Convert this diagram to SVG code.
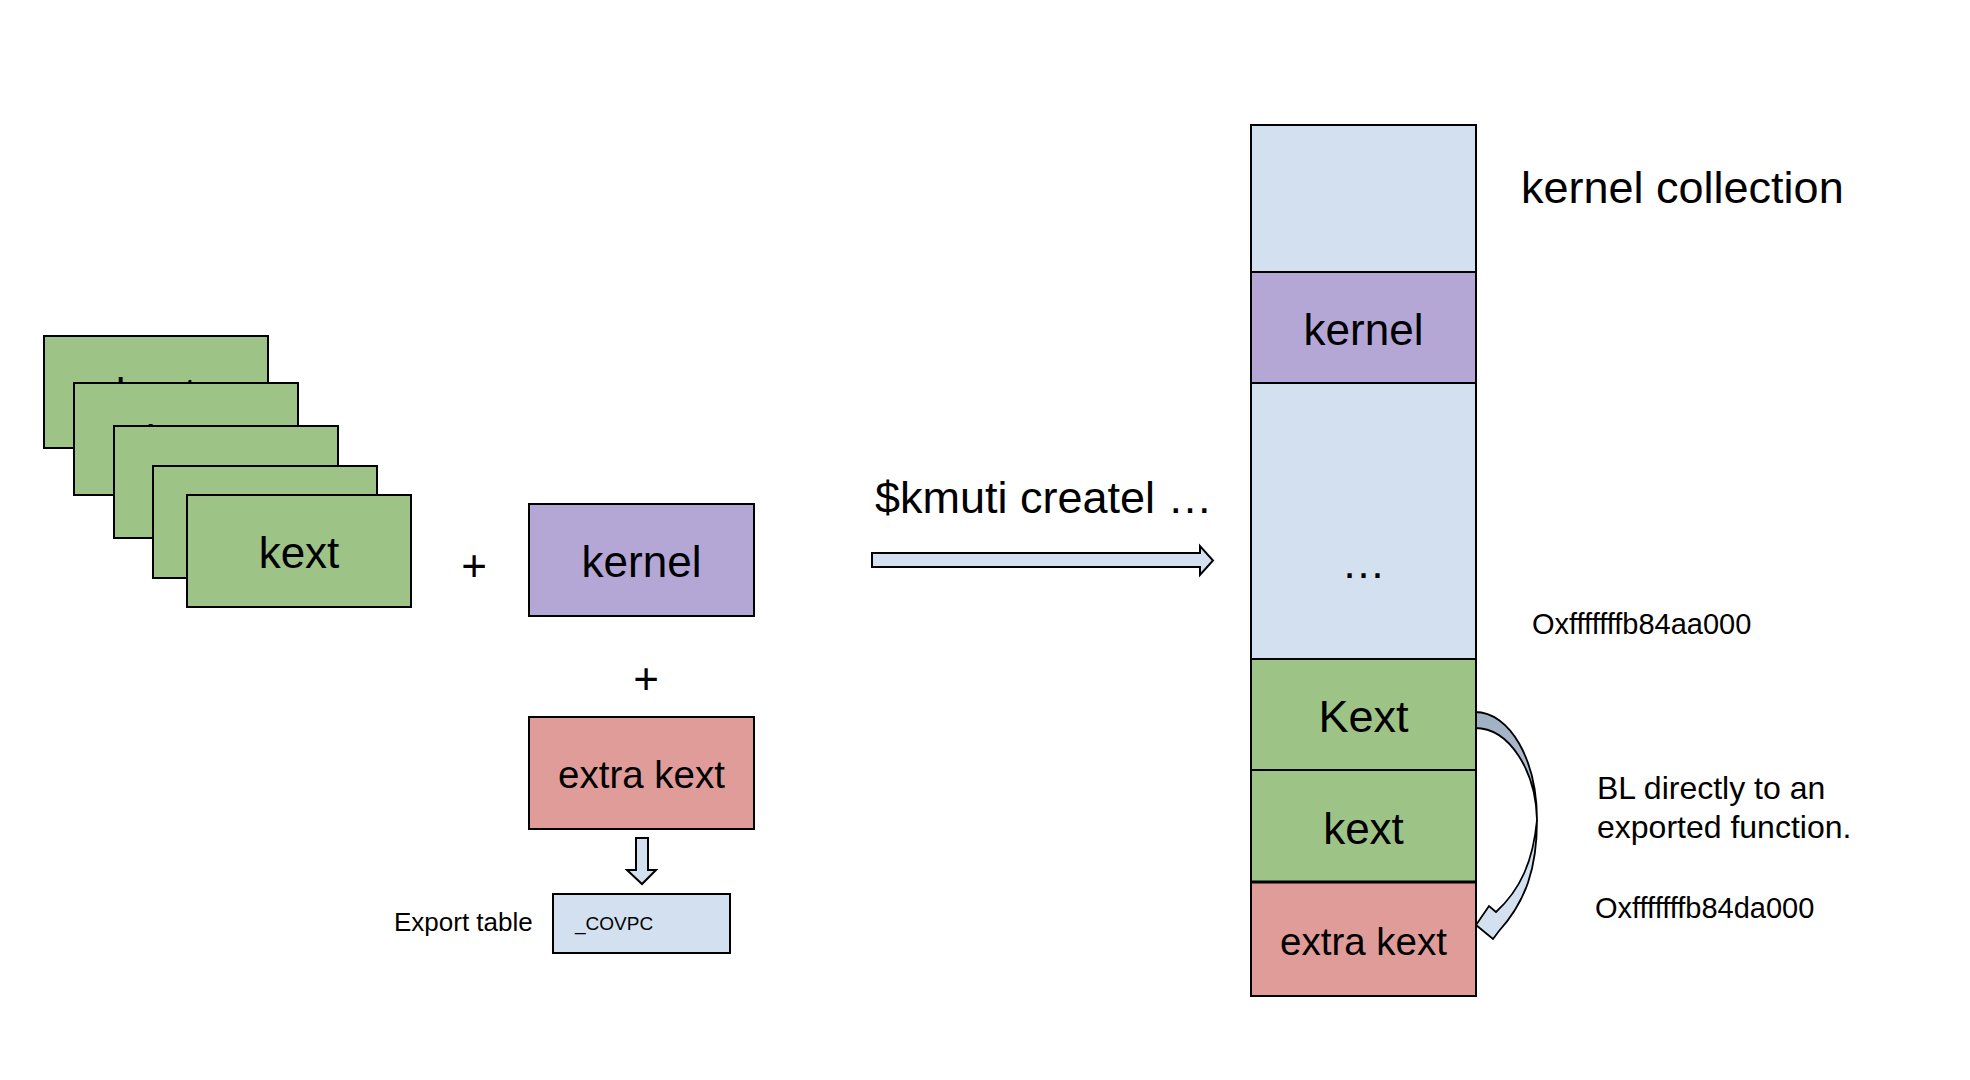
<svg xmlns="http://www.w3.org/2000/svg" width="1970" height="1080" viewBox="0 0 1970 1080">
<style>
text{font-family:"Liberation Sans",Arial,sans-serif;fill:#000}
.c{text-anchor:middle}
.box{stroke:#000;stroke-width:2}
.g{fill:#9ec387}
.p{fill:#b4a7d6}
.r{fill:#e09c99}
.b{fill:#d3e0f0}
.arr{fill:#d3e0f0;stroke:#000;stroke-width:2;stroke-linejoin:miter}
</style>
<defs>
<linearGradient id="back" x1="0" y1="0" x2="0" y2="1">
<stop offset="0" stop-color="#9fb0c3"/>
<stop offset="1" stop-color="#b9c7d8"/>
</linearGradient>
</defs>
<rect width="1970" height="1080" fill="#fff"/>

<g id="kext-stack">
<g id="kext1"><rect class="box g" x="44" y="336" width="224" height="112"/><text class="c" x="156" y="409" font-size="44">kext</text></g>
<g id="kext2"><rect class="box g" x="74" y="383" width="224" height="112"/><text class="c" x="186" y="456" font-size="44">kext</text></g>
<g id="kext3"><rect class="box g" x="114" y="426" width="224" height="112"/></g>
<g id="kext4"><rect class="box g" x="153" y="466" width="224" height="112"/></g>
<g id="kext5"><rect class="box g" x="187" y="495" width="224" height="112"/><text class="c" x="299" y="568" font-size="44">kext</text></g>
</g>

<text id="plus1" class="c" x="474" y="581" font-size="44">+</text>
<text id="plus2" class="c" x="646" y="694" font-size="44">+</text>

<g id="kernel"><rect class="box p" x="529" y="504" width="225" height="112"/><text class="c" x="641.5" y="577" font-size="44">kernel</text></g>
<g id="extra-kext"><rect class="box r" x="529" y="717" width="225" height="112"/><text class="c" x="641.5" y="788" font-size="38.5">extra kext</text></g>

<g id="export-table">
<text x="394" y="931" font-size="26">Export table</text>
<rect class="box b" x="553" y="894" width="177" height="59"/>
<text x="575" y="930" font-size="19">_COVPC</text>
</g>

<text id="cmd" x="875" y="513" font-size="45">$kmuti createl …</text>

<g id="connectors">
<path class="arr" d="M872,553 H1200 V546 L1213,560.5 L1200,575 V567 H872 Z"/>
<path class="arr" d="M636,838 H648 V870 H656 L642,884 L627,870 H636 Z"/>
<path d="M1475,712 C1510,712 1537,760 1537,820 C1536,772 1510,728 1475,728 Z" fill="url(#back)" stroke="#000" stroke-width="1.8" stroke-linejoin="round"/>
<path d="M1537,820 C1537,868 1526,901 1499,931 L1493,939 L1476,925 L1489,906 L1496,912 C1520,890 1533,862 1537,820 Z" fill="#d3e0f0" stroke="#000" stroke-width="1.8" stroke-linejoin="miter"/>
</g>

<g id="kernel-collection">
<rect class="box b" x="1251" y="125" width="225" height="147"/>
<g id="kc-kernel"><rect class="box p" x="1251" y="272" width="225" height="111"/><text class="c" x="1363.5" y="345" font-size="44">kernel</text></g>
<g id="kc-dots"><rect class="box b" x="1251" y="383" width="225" height="276"/><text class="c" x="1363.5" y="578" font-size="44">…</text></g>
<g id="kc-Kext"><rect class="box g" x="1251" y="659" width="225" height="111"/><text class="c" x="1363.5" y="732" font-size="45">Kext</text></g>
<g id="kc-kext"><rect class="box g" x="1251" y="770" width="225" height="112"/><text class="c" x="1363.5" y="844" font-size="44">kext</text></g>
<g id="kc-extra"><rect class="box r" x="1251" y="882" width="225" height="114"/><text class="c" x="1363.5" y="955" font-size="38.5">extra kext</text></g>
<line x1="1251" y1="882" x2="1476" y2="882" stroke="#000" stroke-width="3"/>
</g>

<text id="kc-title" x="1521" y="203" font-size="45">kernel collection</text>
<text id="addr1" x="1532" y="634" font-size="29">Oxfffffffb84aa000</text>
<text id="bl-label" x="1597" y="799" font-size="32">BL directly to an<tspan x="1597" y="838">exported function.</tspan></text>
<text id="addr2" x="1595" y="918" font-size="29">Oxfffffffb84da000</text>
</svg>
